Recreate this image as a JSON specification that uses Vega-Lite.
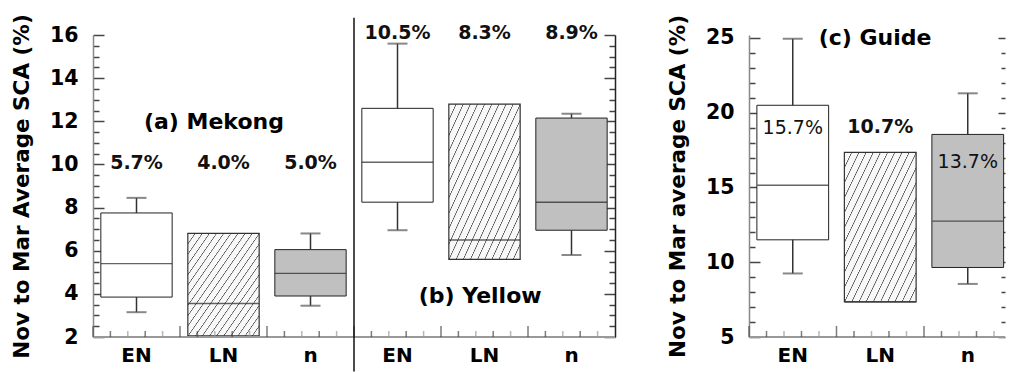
{
  "$schema": "https://vega.github.io/schema/vega-lite/v6.json",
  "background": "white",
  "padding": {"left": 11, "top": 13, "right": 0, "bottom": 0},
  "config": {"view": {"stroke": null}, "font": "DejaVu Sans"},
  "datasets": {
    "boxes": [
      {"g": "a", "key": "a-EN", "cat": "EN", "lo": 3.15, "q1": 3.85, "med": 5.4, "q3": 7.75, "hi": 8.45, "pct": "5.7%"},
      {"g": "a", "key": "a-LN", "cat": "LN", "lo": null, "q1": 2.05, "med": 3.55, "q3": 6.8, "hi": null, "pct": "4.0%"},
      {"g": "a", "key": "a-n", "cat": "n", "lo": 3.45, "q1": 3.9, "med": 4.95, "q3": 6.05, "hi": 6.8, "pct": "5.0%"},
      {"g": "b", "key": "b-EN", "cat": "EN", "lo": 6.95, "q1": 8.25, "med": 10.1, "q3": 12.6, "hi": 15.6, "pct": "10.5%"},
      {"g": "b", "key": "b-LN", "cat": "LN", "lo": null, "q1": 5.6, "med": 6.5, "q3": 12.8, "hi": null, "pct": "8.3%"},
      {"g": "b", "key": "b-n", "cat": "n", "lo": 5.8, "q1": 6.95, "med": 8.25, "q3": 12.15, "hi": 12.35, "pct": "8.9%"},
      {"g": "c", "key": "c-EN", "cat": "EN", "lo": 9.25, "q1": 11.5, "med": 15.15, "q3": 20.5, "hi": 24.95, "pct": "15.7%"},
      {"g": "c", "key": "c-LN", "cat": "LN", "lo": null, "q1": 7.35, "med": 7.35, "q3": 17.35, "hi": null, "pct": "10.7%"},
      {"g": "c", "key": "c-n", "cat": "n", "lo": 8.55, "q1": 9.65, "med": 12.75, "q3": 18.55, "hi": 21.3, "pct": "13.7%"}
    ]
  },
  "bounds": "flush",
  "spacing": 134,
  "hconcat": [
    {
      "width": 522,
      "height": 302,
      "data": {"name": "boxes"},
      "transform": [{"filter": "datum.g !== 'c'"}],
      "resolve": {"axis": {"y": "independent"}},
      "layer": [
        {
          "transform": [{"filter": "datum.cat !== 'LN'"}],
          "mark": {"type": "bar", "width": {"band": 0.82}, "stroke": "#222", "strokeWidth": 1},
          "encoding": {
            "x": {"field": "key", "type": "nominal",
              "scale": {"domain": ["a-EN", "a-LN", "a-n", "b-EN", "b-LN", "b-n"], "paddingInner": 0, "paddingOuter": 0},
              "axis": {"title": null, "labelExpr": "split(datum.label, '-')[1]", "ticks": false, "domain": false, "labelAngle": 0,
                "labelFont": "DejaVu Sans", "labelFontWeight": "bold", "labelFontSize": 20, "labelColor": "black", "labelPadding": 8, "grid": false}},
            "y": {"field": "q1", "type": "quantitative",
              "scale": {"domain": [2, 16], "nice": false, "zero": false},
              "axis": {"orient": "left", "title": "Nov to Mar Average SCA (%)", "grid": false,
                "values": [2, 2.5, 3, 3.5, 4, 4.5, 5, 5.5, 6, 6.5, 7, 7.5, 8, 8.5, 9, 9.5, 10, 10.5, 11, 11.5, 12, 12.5, 13, 13.5, 14, 14.5, 15, 15.5, 16],
                "labelExpr": "datum.value % 2 === 0 ? format(datum.value, 'd') : ''",
                "labelOverlap": false, "labelFlush": false,
                "tickSize": {"condition": {"test": "datum.value % 2 === 0", "value": -11}, "value": -6},
                "tickColor": "#444", "tickWidth": 1.5, "domainColor": "#888", "domainWidth": 1.5,
                "labelFont": "DejaVu Sans", "labelFontWeight": "bold", "labelFontSize": 20.5, "labelColor": "black", "labelPadding": 26,
                "titleFont": "DejaVu Sans", "titleFontWeight": "bold", "titleFontSize": 21.5, "titleColor": "black", "titlePadding": 16}},
            "y2": {"field": "q3"},
            "fill": {"condition": {"test": "datum.cat === 'n'", "value": "#c0c0c0"}, "value": "white"}
          }
        },
        {
          "transform": [{"filter": "datum.cat === 'LN'"}],
          "mark": {"type": "bar", "width": {"band": 0.82}, "stroke": "#333", "strokeWidth": 1.2,
            "fill": {"gradient": "linear", "x1": 0, "y1": 0, "x2": 1, "y2": 1, "stops": [
              {"offset": 0, "color": "#555"}, {"offset": 0.002, "color": "#555"}, {"offset": 0.007, "color": "#f8f8f8"}, {"offset": 0.047, "color": "#f8f8f8"},
              {"offset": 0.05, "color": "#555"}, {"offset": 0.052, "color": "#555"}, {"offset": 0.057, "color": "#f8f8f8"}, {"offset": 0.097, "color": "#f8f8f8"},
              {"offset": 0.1, "color": "#555"}, {"offset": 0.102, "color": "#555"}, {"offset": 0.107, "color": "#f8f8f8"}, {"offset": 0.147, "color": "#f8f8f8"},
              {"offset": 0.15, "color": "#555"}, {"offset": 0.152, "color": "#555"}, {"offset": 0.157, "color": "#f8f8f8"}, {"offset": 0.197, "color": "#f8f8f8"},
              {"offset": 0.2, "color": "#555"}, {"offset": 0.202, "color": "#555"}, {"offset": 0.207, "color": "#f8f8f8"}, {"offset": 0.247, "color": "#f8f8f8"},
              {"offset": 0.25, "color": "#555"}, {"offset": 0.252, "color": "#555"}, {"offset": 0.257, "color": "#f8f8f8"}, {"offset": 0.297, "color": "#f8f8f8"},
              {"offset": 0.3, "color": "#555"}, {"offset": 0.302, "color": "#555"}, {"offset": 0.307, "color": "#f8f8f8"}, {"offset": 0.347, "color": "#f8f8f8"},
              {"offset": 0.35, "color": "#555"}, {"offset": 0.352, "color": "#555"}, {"offset": 0.357, "color": "#f8f8f8"}, {"offset": 0.397, "color": "#f8f8f8"},
              {"offset": 0.4, "color": "#555"}, {"offset": 0.402, "color": "#555"}, {"offset": 0.407, "color": "#f8f8f8"}, {"offset": 0.447, "color": "#f8f8f8"},
              {"offset": 0.45, "color": "#555"}, {"offset": 0.452, "color": "#555"}, {"offset": 0.457, "color": "#f8f8f8"}, {"offset": 0.497, "color": "#f8f8f8"},
              {"offset": 0.5, "color": "#555"}, {"offset": 0.502, "color": "#555"}, {"offset": 0.507, "color": "#f8f8f8"}, {"offset": 0.547, "color": "#f8f8f8"},
              {"offset": 0.55, "color": "#555"}, {"offset": 0.552, "color": "#555"}, {"offset": 0.557, "color": "#f8f8f8"}, {"offset": 0.597, "color": "#f8f8f8"},
              {"offset": 0.6, "color": "#555"}, {"offset": 0.602, "color": "#555"}, {"offset": 0.607, "color": "#f8f8f8"}, {"offset": 0.647, "color": "#f8f8f8"},
              {"offset": 0.65, "color": "#555"}, {"offset": 0.652, "color": "#555"}, {"offset": 0.657, "color": "#f8f8f8"}, {"offset": 0.697, "color": "#f8f8f8"},
              {"offset": 0.7, "color": "#555"}, {"offset": 0.702, "color": "#555"}, {"offset": 0.707, "color": "#f8f8f8"}, {"offset": 0.747, "color": "#f8f8f8"},
              {"offset": 0.75, "color": "#555"}, {"offset": 0.752, "color": "#555"}, {"offset": 0.757, "color": "#f8f8f8"}, {"offset": 0.797, "color": "#f8f8f8"},
              {"offset": 0.8, "color": "#555"}, {"offset": 0.802, "color": "#555"}, {"offset": 0.807, "color": "#f8f8f8"}, {"offset": 0.847, "color": "#f8f8f8"},
              {"offset": 0.85, "color": "#555"}, {"offset": 0.852, "color": "#555"}, {"offset": 0.857, "color": "#f8f8f8"}, {"offset": 0.897, "color": "#f8f8f8"},
              {"offset": 0.9, "color": "#555"}, {"offset": 0.902, "color": "#555"}, {"offset": 0.907, "color": "#f8f8f8"}, {"offset": 0.947, "color": "#f8f8f8"},
              {"offset": 0.95, "color": "#555"}, {"offset": 0.952, "color": "#555"}, {"offset": 0.957, "color": "#f8f8f8"}, {"offset": 0.997, "color": "#f8f8f8"},
              {"offset": 1, "color": "#555"}
            ]}},
          "encoding": {
            "x": {"field": "key", "type": "nominal"},
            "y": {"field": "q1", "type": "quantitative", "axis": null},
            "y2": {"field": "q3"}
          }
        },
        {
          "mark": {"type": "tick", "orient": "horizontal", "size": 71, "thickness": 1.4, "color": "#222"},
          "encoding": {
            "x": {"field": "key", "type": "nominal"},
            "y": {"field": "med", "type": "quantitative", "axis": null}
          }
        },
        {
          "transform": [{"filter": "isValid(datum.lo)"}],
          "mark": {"type": "rule", "color": "#333", "strokeWidth": 1.5},
          "encoding": {
            "x": {"field": "key", "type": "nominal"},
            "y": {"field": "lo", "type": "quantitative", "axis": null},
            "y2": {"field": "q1"}
          }
        },
        {
          "transform": [{"filter": "isValid(datum.hi)"}],
          "mark": {"type": "rule", "color": "#333", "strokeWidth": 1.5},
          "encoding": {
            "x": {"field": "key", "type": "nominal"},
            "y": {"field": "q3", "type": "quantitative", "axis": null},
            "y2": {"field": "hi"}
          }
        },
        {
          "transform": [{"filter": "isValid(datum.lo)"}],
          "mark": {"type": "tick", "orient": "horizontal", "size": 20, "thickness": 2, "color": "#555"},
          "encoding": {
            "x": {"field": "key", "type": "nominal"},
            "y": {"field": "lo", "type": "quantitative", "axis": null}
          }
        },
        {
          "transform": [{"filter": "isValid(datum.hi)"}],
          "mark": {"type": "tick", "orient": "horizontal", "size": 20, "thickness": 2, "color": "#555"},
          "encoding": {
            "x": {"field": "key", "type": "nominal"},
            "y": {"field": "hi", "type": "quantitative",
              "axis": {"orient": "right", "title": null, "labels": false, "grid": false,
                "values": [2, 2.5, 3, 3.5, 4, 4.5, 5, 5.5, 6, 6.5, 7, 7.5, 8, 8.5, 9, 9.5, 10, 10.5, 11, 11.5, 12, 12.5, 13, 13.5, 14, 14.5, 15, 15.5, 16],
                "tickSize": {"condition": {"test": "datum.value % 2 === 0", "value": -11}, "value": -6},
                "tickColor": "#444", "tickWidth": 1.5, "domainColor": "#222", "domainWidth": 1.5}}
          }
        },
        {
          "mark": {"type": "rule", "color": "#999", "strokeWidth": 2},
          "encoding": {"y": {"datum": 2, "axis": null}}
        },
        {
          "mark": {"type": "tick", "orient": "vertical", "size": 11, "thickness": 1.5, "color": "#444", "yOffset": -5.5},
          "encoding": {"x": {"field": "key", "type": "nominal", "bandPosition": 0}, "y": {"datum": 2, "axis": null}}
        },
        {
          "mark": {"type": "tick", "orient": "vertical", "size": 6, "thickness": 1.5, "color": "#444", "yOffset": -3},
          "encoding": {"x": {"field": "key", "type": "nominal", "bandPosition": 0.2}, "y": {"datum": 2, "axis": null}}
        },
        {
          "mark": {"type": "tick", "orient": "vertical", "size": 6, "thickness": 1.5, "color": "#999", "yOffset": -3},
          "encoding": {"x": {"field": "key", "type": "nominal", "bandPosition": 0.4}, "y": {"datum": 2, "axis": null}}
        },
        {
          "mark": {"type": "tick", "orient": "vertical", "size": 6, "thickness": 1.5, "color": "#444", "yOffset": -3},
          "encoding": {"x": {"field": "key", "type": "nominal", "bandPosition": 0.6}, "y": {"datum": 2, "axis": null}}
        },
        {
          "mark": {"type": "tick", "orient": "vertical", "size": 6, "thickness": 1.5, "color": "#999", "yOffset": -3},
          "encoding": {"x": {"field": "key", "type": "nominal", "bandPosition": 0.8}, "y": {"datum": 2, "axis": null}}
        },
        {
          "transform": [{"filter": "datum.key === 'b-EN'"}],
          "mark": {"type": "rule", "color": "#111", "strokeWidth": 1.5},
          "encoding": {
            "x": {"field": "key", "type": "nominal", "bandPosition": 0},
            "y": {"datum": 16.8, "axis": null},
            "y2": {"datum": 0.4}
          }
        },
        {
          "transform": [{"filter": "datum.g === 'a'"}],
          "mark": {"type": "text", "font": "DejaVu Sans", "fontWeight": "bold", "fontSize": 19, "color": "#111", "baseline": "middle", "align": "center"},
          "encoding": {
            "x": {"field": "key", "type": "nominal"},
            "y": {"datum": 10.05, "axis": null},
            "text": {"field": "pct"}
          }
        },
        {
          "transform": [{"filter": "datum.g === 'b'"}],
          "mark": {"type": "text", "font": "DejaVu Sans", "fontWeight": "bold", "fontSize": 19, "color": "#111", "baseline": "middle", "align": "center"},
          "encoding": {
            "x": {"field": "key", "type": "nominal"},
            "y": {"datum": 16.1, "axis": null},
            "text": {"field": "pct"}
          }
        },
        {
          "transform": [{"filter": "datum.key === 'a-LN'"}],
          "mark": {"type": "text", "text": "(a) Mekong", "font": "DejaVu Sans", "fontWeight": "bold", "fontSize": 22, "color": "black", "baseline": "middle", "align": "center"},
          "encoding": {
            "x": {"field": "key", "type": "nominal", "bandPosition": 0.39},
            "y": {"datum": 11.95, "axis": null}
          }
        },
        {
          "transform": [{"filter": "datum.key === 'b-LN'"}],
          "mark": {"type": "text", "text": "(b) Yellow", "font": "DejaVu Sans", "fontWeight": "bold", "fontSize": 22, "color": "black", "baseline": "middle", "align": "center"},
          "encoding": {
            "x": {"field": "key", "type": "nominal", "bandPosition": 0.45},
            "y": {"datum": 3.9, "axis": null}
          }
        }
      ]
    },
    {
      "width": 256,
      "height": 302,
      "data": {"name": "boxes"},
      "transform": [{"filter": "datum.g === 'c'"}],
      "resolve": {"axis": {"y": "independent"}},
      "layer": [
        {
          "transform": [{"filter": "datum.cat !== 'LN'"}],
          "mark": {"type": "bar", "width": {"band": 0.82}, "stroke": "#222", "strokeWidth": 1},
          "encoding": {
            "x": {"field": "key", "type": "nominal",
              "scale": {"domain": ["c-EN", "c-LN", "c-n"], "range": [0, 262.5], "paddingInner": 0, "paddingOuter": 0},
              "axis": {"title": null, "labelExpr": "split(datum.label, '-')[1]", "ticks": false, "domain": false, "labelAngle": 0,
                "labelFont": "DejaVu Sans", "labelFontWeight": "bold", "labelFontSize": 20, "labelColor": "black", "labelPadding": 8, "grid": false}},
            "y": {"field": "q1", "type": "quantitative",
              "scale": {"domain": [5, 25.2], "nice": false, "zero": false},
              "axis": {"orient": "left", "title": "Nov to Mar average SCA (%)", "grid": false,
                "values": [5, 6, 7, 8, 9, 10, 11, 12, 13, 14, 15, 16, 17, 18, 19, 20, 21, 22, 23, 24, 25],
                "labelExpr": "datum.value % 5 === 0 ? format(datum.value, 'd') : ''",
                "labelOverlap": false, "labelFlush": false,
                "tickSize": {"condition": {"test": "datum.value % 5 === 0", "value": -11}, "value": -6},
                "tickColor": "#444", "tickWidth": 1.5, "domainColor": "#888", "domainWidth": 1.5,
                "labelFont": "DejaVu Sans", "labelFontWeight": "bold", "labelFontSize": 20.5, "labelColor": "black", "labelPadding": 26,
                "titleFont": "DejaVu Sans", "titleFontWeight": "bold", "titleFontSize": 21.5, "titleColor": "black", "titlePadding": 16}},
            "y2": {"field": "q3"},
            "fill": {"condition": {"test": "datum.cat === 'n'", "value": "#c0c0c0"}, "value": "white"}
          }
        },
        {
          "transform": [{"filter": "datum.cat === 'LN'"}],
          "mark": {"type": "bar", "width": {"band": 0.82}, "stroke": "#333", "strokeWidth": 1.2,
            "fill": {"gradient": "linear", "x1": 0, "y1": 0, "x2": 1, "y2": 1, "stops": [
              {"offset": 0, "color": "#555"}, {"offset": 0.002, "color": "#555"}, {"offset": 0.007, "color": "#f8f8f8"}, {"offset": 0.047, "color": "#f8f8f8"},
              {"offset": 0.05, "color": "#555"}, {"offset": 0.052, "color": "#555"}, {"offset": 0.057, "color": "#f8f8f8"}, {"offset": 0.097, "color": "#f8f8f8"},
              {"offset": 0.1, "color": "#555"}, {"offset": 0.102, "color": "#555"}, {"offset": 0.107, "color": "#f8f8f8"}, {"offset": 0.147, "color": "#f8f8f8"},
              {"offset": 0.15, "color": "#555"}, {"offset": 0.152, "color": "#555"}, {"offset": 0.157, "color": "#f8f8f8"}, {"offset": 0.197, "color": "#f8f8f8"},
              {"offset": 0.2, "color": "#555"}, {"offset": 0.202, "color": "#555"}, {"offset": 0.207, "color": "#f8f8f8"}, {"offset": 0.247, "color": "#f8f8f8"},
              {"offset": 0.25, "color": "#555"}, {"offset": 0.252, "color": "#555"}, {"offset": 0.257, "color": "#f8f8f8"}, {"offset": 0.297, "color": "#f8f8f8"},
              {"offset": 0.3, "color": "#555"}, {"offset": 0.302, "color": "#555"}, {"offset": 0.307, "color": "#f8f8f8"}, {"offset": 0.347, "color": "#f8f8f8"},
              {"offset": 0.35, "color": "#555"}, {"offset": 0.352, "color": "#555"}, {"offset": 0.357, "color": "#f8f8f8"}, {"offset": 0.397, "color": "#f8f8f8"},
              {"offset": 0.4, "color": "#555"}, {"offset": 0.402, "color": "#555"}, {"offset": 0.407, "color": "#f8f8f8"}, {"offset": 0.447, "color": "#f8f8f8"},
              {"offset": 0.45, "color": "#555"}, {"offset": 0.452, "color": "#555"}, {"offset": 0.457, "color": "#f8f8f8"}, {"offset": 0.497, "color": "#f8f8f8"},
              {"offset": 0.5, "color": "#555"}, {"offset": 0.502, "color": "#555"}, {"offset": 0.507, "color": "#f8f8f8"}, {"offset": 0.547, "color": "#f8f8f8"},
              {"offset": 0.55, "color": "#555"}, {"offset": 0.552, "color": "#555"}, {"offset": 0.557, "color": "#f8f8f8"}, {"offset": 0.597, "color": "#f8f8f8"},
              {"offset": 0.6, "color": "#555"}, {"offset": 0.602, "color": "#555"}, {"offset": 0.607, "color": "#f8f8f8"}, {"offset": 0.647, "color": "#f8f8f8"},
              {"offset": 0.65, "color": "#555"}, {"offset": 0.652, "color": "#555"}, {"offset": 0.657, "color": "#f8f8f8"}, {"offset": 0.697, "color": "#f8f8f8"},
              {"offset": 0.7, "color": "#555"}, {"offset": 0.702, "color": "#555"}, {"offset": 0.707, "color": "#f8f8f8"}, {"offset": 0.747, "color": "#f8f8f8"},
              {"offset": 0.75, "color": "#555"}, {"offset": 0.752, "color": "#555"}, {"offset": 0.757, "color": "#f8f8f8"}, {"offset": 0.797, "color": "#f8f8f8"},
              {"offset": 0.8, "color": "#555"}, {"offset": 0.802, "color": "#555"}, {"offset": 0.807, "color": "#f8f8f8"}, {"offset": 0.847, "color": "#f8f8f8"},
              {"offset": 0.85, "color": "#555"}, {"offset": 0.852, "color": "#555"}, {"offset": 0.857, "color": "#f8f8f8"}, {"offset": 0.897, "color": "#f8f8f8"},
              {"offset": 0.9, "color": "#555"}, {"offset": 0.902, "color": "#555"}, {"offset": 0.907, "color": "#f8f8f8"}, {"offset": 0.947, "color": "#f8f8f8"},
              {"offset": 0.95, "color": "#555"}, {"offset": 0.952, "color": "#555"}, {"offset": 0.957, "color": "#f8f8f8"}, {"offset": 0.997, "color": "#f8f8f8"},
              {"offset": 1, "color": "#555"}
            ]}},
          "encoding": {
            "x": {"field": "key", "type": "nominal"},
            "y": {"field": "q1", "type": "quantitative", "axis": null},
            "y2": {"field": "q3"}
          }
        },
        {
          "mark": {"type": "tick", "orient": "horizontal", "size": 71, "thickness": 1.4, "color": "#222"},
          "encoding": {
            "x": {"field": "key", "type": "nominal"},
            "y": {"field": "med", "type": "quantitative", "axis": null}
          }
        },
        {
          "transform": [{"filter": "isValid(datum.lo)"}],
          "mark": {"type": "rule", "color": "#333", "strokeWidth": 1.5},
          "encoding": {
            "x": {"field": "key", "type": "nominal"},
            "y": {"field": "lo", "type": "quantitative", "axis": null},
            "y2": {"field": "q1"}
          }
        },
        {
          "transform": [{"filter": "isValid(datum.hi)"}],
          "mark": {"type": "rule", "color": "#333", "strokeWidth": 1.5},
          "encoding": {
            "x": {"field": "key", "type": "nominal"},
            "y": {"field": "q3", "type": "quantitative", "axis": null},
            "y2": {"field": "hi"}
          }
        },
        {
          "transform": [{"filter": "isValid(datum.lo)"}],
          "mark": {"type": "tick", "orient": "horizontal", "size": 20, "thickness": 2, "color": "#555"},
          "encoding": {
            "x": {"field": "key", "type": "nominal"},
            "y": {"field": "lo", "type": "quantitative", "axis": null}
          }
        },
        {
          "transform": [{"filter": "isValid(datum.hi)"}],
          "mark": {"type": "tick", "orient": "horizontal", "size": 20, "thickness": 2, "color": "#555"},
          "encoding": {
            "x": {"field": "key", "type": "nominal"},
            "y": {"field": "hi", "type": "quantitative",
              "axis": {"orient": "right", "title": null, "labels": false, "grid": false, "domain": false,
                "values": [5, 6, 7, 8, 9, 10, 11, 12, 13, 14, 15, 16, 17, 18, 19, 20, 21, 22, 23, 24, 25],
                "tickSize": {"condition": {"test": "datum.value % 5 === 0", "value": -7}, "value": -4},
                "tickColor": "#444", "tickWidth": 1.5}}
          }
        },
        {
          "mark": {"type": "rule", "color": "#999", "strokeWidth": 2},
          "encoding": {"y": {"datum": 5, "axis": null}}
        },
        {
          "mark": {"type": "tick", "orient": "vertical", "size": 11, "thickness": 1.5, "color": "#444", "yOffset": -5.5},
          "encoding": {"x": {"field": "key", "type": "nominal", "bandPosition": 0}, "y": {"datum": 5, "axis": null}}
        },
        {
          "mark": {"type": "tick", "orient": "vertical", "size": 6, "thickness": 1.5, "color": "#444", "yOffset": -3},
          "encoding": {"x": {"field": "key", "type": "nominal", "bandPosition": 0.2}, "y": {"datum": 5, "axis": null}}
        },
        {
          "mark": {"type": "tick", "orient": "vertical", "size": 6, "thickness": 1.5, "color": "#999", "yOffset": -3},
          "encoding": {"x": {"field": "key", "type": "nominal", "bandPosition": 0.4}, "y": {"datum": 5, "axis": null}}
        },
        {
          "mark": {"type": "tick", "orient": "vertical", "size": 6, "thickness": 1.5, "color": "#444", "yOffset": -3},
          "encoding": {"x": {"field": "key", "type": "nominal", "bandPosition": 0.6}, "y": {"datum": 5, "axis": null}}
        },
        {
          "mark": {"type": "tick", "orient": "vertical", "size": 6, "thickness": 1.5, "color": "#999", "yOffset": -3},
          "encoding": {"x": {"field": "key", "type": "nominal", "bandPosition": 0.8}, "y": {"datum": 5, "axis": null}}
        },
        {
          "transform": [{"filter": "datum.cat === 'EN'"}],
          "mark": {"type": "text", "font": "DejaVu Sans", "fontWeight": "normal", "fontSize": 19, "color": "#111", "baseline": "middle", "align": "center"},
          "encoding": {
            "x": {"field": "key", "type": "nominal"},
            "y": {"datum": 18.98, "axis": null},
            "text": {"field": "pct"}
          }
        },
        {
          "transform": [{"filter": "datum.cat === 'LN'"}],
          "mark": {"type": "text", "font": "DejaVu Sans", "fontWeight": "bold", "fontSize": 19, "color": "#111", "baseline": "middle", "align": "center"},
          "encoding": {
            "x": {"field": "key", "type": "nominal"},
            "y": {"datum": 19.05, "axis": null},
            "text": {"field": "pct"}
          }
        },
        {
          "transform": [{"filter": "datum.cat === 'n'"}],
          "mark": {"type": "text", "font": "DejaVu Sans", "fontWeight": "normal", "fontSize": 19, "color": "#111", "baseline": "middle", "align": "center"},
          "encoding": {
            "x": {"field": "key", "type": "nominal"},
            "y": {"datum": 16.7, "axis": null},
            "text": {"field": "pct"}
          }
        },
        {
          "transform": [{"filter": "datum.key === 'c-LN'"}],
          "mark": {"type": "text", "text": "(c) Guide", "font": "DejaVu Sans", "fontWeight": "bold", "fontSize": 22, "color": "black", "baseline": "middle", "align": "center"},
          "encoding": {
            "x": {"field": "key", "type": "nominal", "bandPosition": 0.44},
            "y": {"datum": 25, "axis": null}
          }
        }
      ]
    }
  ]
}
